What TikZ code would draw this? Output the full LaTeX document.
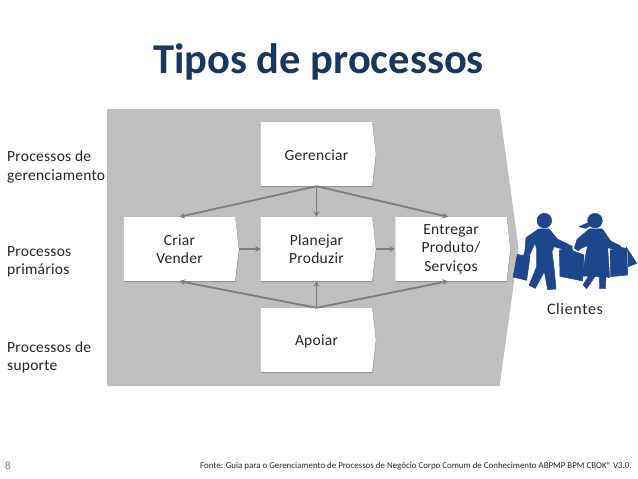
\documentclass[tikz,border=0pt]{standalone}
\usepackage{fontspec}
\setmainfont{Carlito}
\usetikzlibrary{shapes.symbols,shadows,arrows.meta}
\definecolor{titleblue}{RGB}{23,55,94}
\definecolor{panel}{RGB}{191,191,191}
\definecolor{conn}{RGB}{125,125,125}
\definecolor{shopper}{RGB}{30,70,140}
\newfontfamily\spaced[LetterSpace=1.7]{Carlito}
\newfontfamily\spacedwide[LetterSpace=4]{Carlito}
\tikzset{
  panelshade/.style={fill=panel,general shadow={shadow xshift=0.6pt,shadow yshift=-1.2pt,fill=black,opacity=.25}},
  procbox/.style={signal,signal to=east,signal pointer angle=167,fill=white,minimum width=115pt,minimum height=64pt,
    inner sep=0pt,align=center,font=\fontsize{15.5}{18.5}\selectfont\spaced,text=black!85,
    execute at begin node={\rule{0pt}{12.5pt}},
    general shadow={shadow xshift=0.4pt,shadow yshift=-1pt,fill=black,opacity=.3}},
  flow/.style={draw=conn,line width=1.8pt,-{Stealth[length=5.5pt,width=6pt]}},
  lefttext/.style={anchor=base west,align=left,inner sep=0pt,font=\fontsize{15.5}{19}\selectfont\spaced,text=black!85},
  shopperfill/.style={fill=shopper,draw=shopper,line width=.5pt,line join=round}
}
\begin{document}
\begin{tikzpicture}[x=1pt,y=-1pt]
\useasboundingbox (0,0) rectangle (638,479);
\fill[white] (0,0) rectangle (638,479);
\node[anchor=center,inner sep=0pt,text=titleblue,font=\fontsize{42.5}{46}\selectfont\bfseries] (title) at (318.5,62) {Tipos de processos};
\path[panelshade] (107,109) -- (499,109) -- (518,247) -- (499,385) -- (107,385) -- cycle;
\node[procbox] (ger) at (316.5,154) {Gerenciar};
\node[procbox] (cri) at (179.5,249) {Criar\\Vender};
\node[procbox] (pla) at (316.5,249) {Planejar\\Produzir};
\node[procbox] (ent) at (451,249) {Entregar\\Produto/\\Serviços};
\node[procbox] (apo) at (316.5,340) {Apoiar};
\draw[flow] (ger.south) -- (cri.north);
\draw[flow] (ger.south) -- (pla.north);
\draw[flow] (ger.south) -- ([xshift=-3pt]ent.north);
\draw[flow] (apo.north) -- (cri.south);
\draw[flow] (apo.north) -- (pla.south);
\draw[flow] (apo.north) -- ([xshift=-3pt]ent.south);
\draw[flow] (cri.east) -- (pla.west);
\draw[flow] (pla.east) -- (ent.west);
\node[lefttext] (l1a) at (7,161.7) {Processos de};
\node[lefttext] (l1b) at (7,180) {gerenciamento};
\node[lefttext] (l2a) at (7,256) {Processos};
\node[lefttext] (l2b) at (7,274.3) {primários};
\node[lefttext] (l3a) at (7,352.3) {Processos de};
\node[lefttext] (l3b) at (7,370.7) {suporte};
\node[anchor=base,inner sep=0pt,font=\fontsize{16}{18}\selectfont\spacedwide,text=black!85] (cli) at (575,314) {Clientes};
\node[anchor=west,inner sep=0pt,font=\fontsize{11}{13}\selectfont,text=gray] (num) at (5,466) {8};
\node[anchor=west,inner sep=0pt,font=\fontsize{8.9}{11}\selectfont,text=black!85] (src) at (200,466) {Fonte: Guia para o Gerenciamento de Processos de Negócio Corpo Comum de Conhecimento ABPMP BPM CBOK® V3.0.};
% man
\begin{scope}[shift={(510,205)},x=.3333pt,y=-.3333pt]
\fill[shopperfill] (103,47) circle (22);
\draw[shopperfill] (44,146) -- (48,98) -- (86,72) -- (117,72) -- (142,102) -- (187,124) -- (183,140) -- (132,125) -- (126,140) -- (133,195) -- (138,252) -- (113,254) -- (103,200) -- (76,250) -- (57,241) -- (80,185) -- (80,128) -- (74,116) -- (60,148) -- cycle;
\draw[shopperfill] (22,148) -- (40,152) -- (44,143) -- (56,146) -- (60,155) -- (50,226) -- (9,216) -- cycle;
\draw[shopperfill] (148,135) -- (170,132) -- (175,125) -- (185,128) -- (190,138) -- (222,150) -- (218,228) -- (150,214) -- cycle;
\end{scope}
% woman
\begin{scope}[shift={(565,205)},x=.3333pt,y=-.3333pt]
\fill[shopperfill] (90,47) circle (22);
\draw[shopperfill] (72,52) -- (42,65) -- (62,70) -- (76,62) -- cycle;
\draw[shopperfill] (28,130) -- (36,103) -- (73,72) -- (112,72) -- (137,108) -- (167,123) -- (164,138) -- (128,128) -- (134,217) -- (52,213) -- (62,150) -- (68,122) -- (48,130) -- (40,138) -- cycle;
\draw[shopperfill] (72,212) -- (54,240) -- (65,251) -- (90,214) -- cycle;
\draw[shopperfill] (103,214) -- (104,251) -- (121,251) -- (123,214) -- cycle;
\draw[shopperfill] (135,135) -- (155,133) -- (160,125) -- (172,128) -- (185,130) -- (188,210) -- (137,215) -- cycle;
\draw[shopperfill] (183,125) -- (215,175) -- (190,185) -- (188,135) -- cycle;
\end{scope}
\end{tikzpicture}
\end{document}
